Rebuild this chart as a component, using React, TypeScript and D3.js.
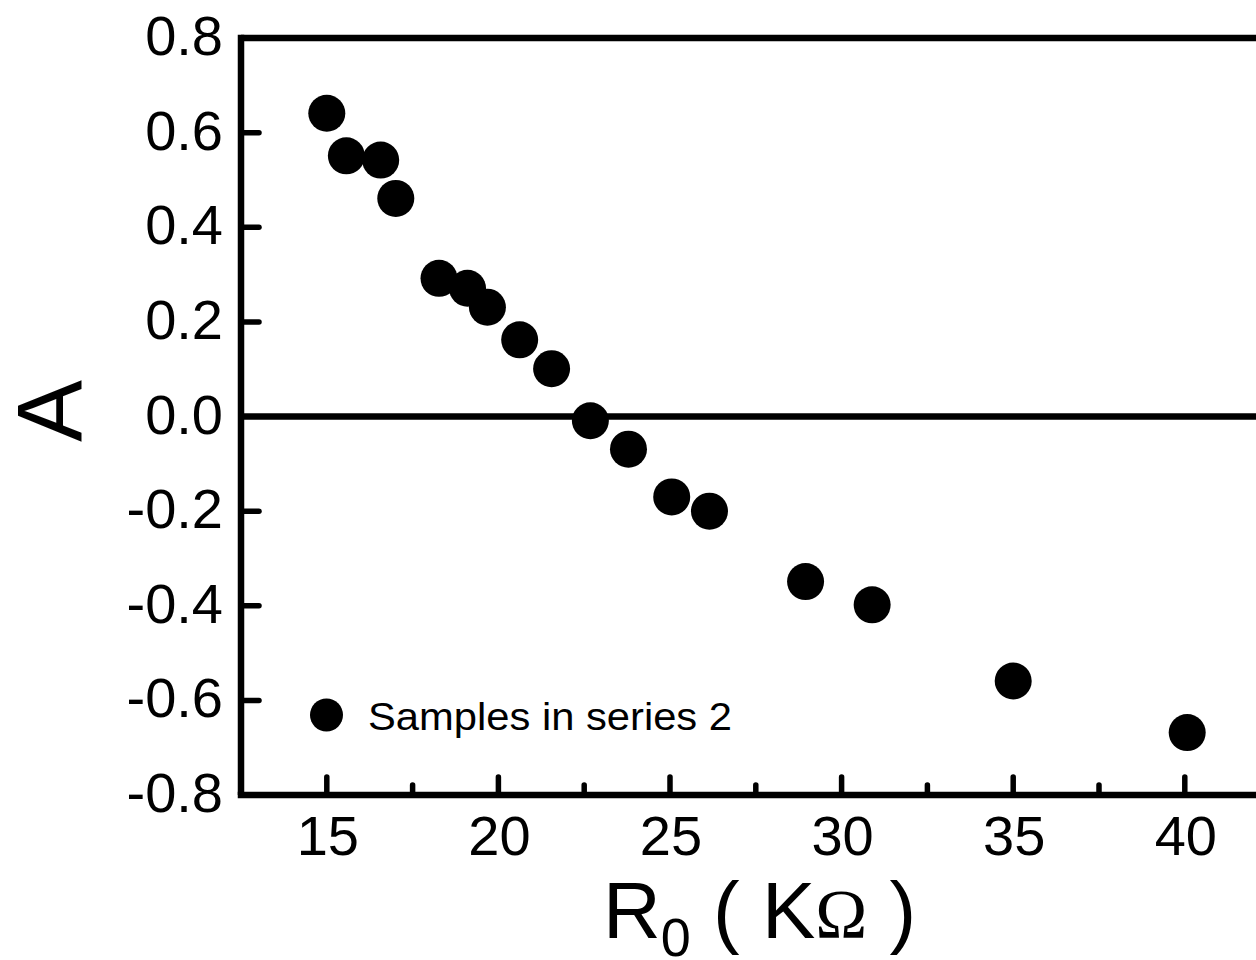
import React from "react";
import * as d3 from "d3";

// Data
const r0Values = [15.0, 15.57, 16.57, 17.01, 18.27, 19.1, 19.68, 20.62, 21.55, 22.68, 23.79, 25.05, 26.15, 28.95, 30.89, 35.0, 40.07];
const aValues = [0.641, 0.551, 0.542, 0.461, 0.292, 0.271, 0.231, 0.162, 0.101, -0.009, -0.069, -0.17, -0.2, -0.349, -0.398, -0.559, -0.668];

const xMajorTicks = [15, 20, 25, 30, 35, 40];
const xMinorTicks = [17.5, 22.5, 27.5, 32.5, 37.5];
const yTicks = [-0.8, -0.6, -0.4, -0.2, 0.0, 0.2, 0.4, 0.6, 0.8];
const legendLabel = "Samples in series 2";

const W = 1256;
const H = 960;
const FONT = "'Liberation Sans', Arial, Helvetica, sans-serif";

export default function App() {
  const x = d3.scaleLinear().domain([12.5, 42.5]).range([241, 1270.6]);
  const y = d3.scaleLinear().domain([-0.8, 0.8]).range([795, 38]);
  const pts = r0Values.map((v, i) => ({ x: v, y: aValues[i] }));
  const axisW = 6.5;
  const tickW = 5.5;
  const left = x(12.5);
  const right = W + 20;

  return (
    <svg
      width={W}
      height={H}
      style={{ position: "absolute", left: 0, top: 0, background: "#fff" }}
      fontFamily={FONT}
    >
      <rect x={0} y={0} width={W} height={H} fill="#fff" />
      {/* frame lines */}
      <line x1={left} x2={right} y1={y(0.8)} y2={y(0.8)} stroke="#000" strokeWidth={axisW} />
      <line x1={left} x2={right} y1={y(0)} y2={y(0)} stroke="#000" strokeWidth={axisW} />
      <line x1={left - axisW / 2} x2={right} y1={y(-0.8)} y2={y(-0.8)} stroke="#000" strokeWidth={axisW} />
      <line x1={left} x2={left} y1={y(0.8) - axisW / 2} y2={y(-0.8)} stroke="#000" strokeWidth={axisW} />

      {/* y ticks */}
      {yTicks.map((t) => (
        <g key={"yt" + t}>
          {t > -0.8 && t < 0.8 && Math.abs(t) > 1e-9 ? (
            <line x1={left} x2={left + 18} y1={y(t)} y2={y(t)} stroke="#000" strokeWidth={tickW} strokeLinecap="round" />
          ) : null}
          <text x={223} y={y(t) + 17} textAnchor="end" fontSize={56} fill="#000">
            {t.toFixed(1)}
          </text>
        </g>
      ))}

      {/* x ticks */}
      {xMajorTicks.map((t) => (
        <g key={"xt" + t}>
          <line x1={x(t)} x2={x(t)} y1={y(-0.8)} y2={y(-0.8) - 18} stroke="#000" strokeWidth={tickW} strokeLinecap="round" />
          <text x={x(t) + 1} y={855} textAnchor="middle" fontSize={56} fill="#000">
            {t}
          </text>
        </g>
      ))}
      {xMinorTicks.map((t) => (
        <line key={"xm" + t} x1={x(t)} x2={x(t)} y1={y(-0.8)} y2={y(-0.8) - 10} stroke="#000" strokeWidth={tickW} strokeLinecap="round" />
      ))}

      {/* data */}
      {pts.map((p, i) => (
        <circle key={i} cx={x(p.x)} cy={y(p.y)} r={18.5} fill="#000" />
      ))}

      {/* legend */}
      <circle cx={326.5} cy={715} r={16.5} fill="#000" />
      <text x={368} y={730} fontSize={38} textLength={364} lengthAdjust="spacingAndGlyphs" fill="#000">
        {legendLabel}
      </text>

      {/* axis titles */}
      <text x={603} y={938} fontSize={80} fill="#000">
        <tspan>R</tspan>
        <tspan fontSize={54} dy={18}>0</tspan>
        <tspan dy={-18}> ( K</tspan>
        <tspan fontFamily="'Liberation Serif', 'Times New Roman', serif" fontSize={70}>Ω</tspan>
        <tspan> )</tspan>
      </text>
      <text transform="translate(82, 411) rotate(-90)" textAnchor="middle" fontSize={93} fill="#000">
        A
      </text>
    </svg>
  );
}
